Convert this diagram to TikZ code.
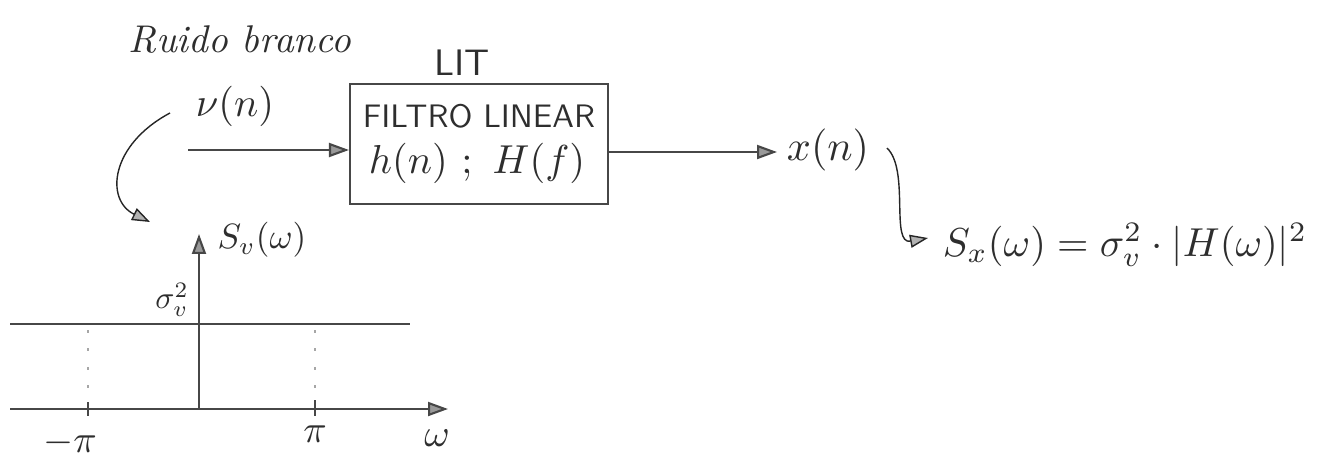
\documentclass[tikz,border=0pt]{standalone}
\usetikzlibrary{arrows.meta}
\begin{document}
\begin{tikzpicture}[x=0.02cm,y=-0.02cm,
  pencil/.style={draw=black!72,line width=1.2pt},
  ink/.style={text=black!82,inner sep=0pt},
  head/.style={-{Triangle[length=0.4cm,width=0.28cm,fill=black!40]}},
  arr/.style={pencil,head},
  curvearr/.style={draw=black!85,line width=0.8pt,-{Triangle[length=0.36cm,width=0.26cm,fill=black!30]}},
  filterbox/.style={pencil,minimum width=5.16cm,minimum height=2.4cm,inner sep=0pt},
  guide/.style={draw=black!35,line width=0.9pt,dash pattern=on 1.5pt off 9pt}]
\useasboundingbox (0,0) rectangle (1329,463);

% block diagram
\node[ink,scale=2.2,font=\itshape] (title) at (240,40) {Ruido branco};
\node[ink,scale=2.1,font=\sffamily] (lit) at (462,63) {LIT};
\node[filterbox] (filt) at (479,144) {};
\node[ink,scale=1.85,font=\sffamily] (ftxt) at (479,116) {FILTRO LINEAR};
\node[ink,scale=2.3] (htxt) at (477,163) {$h(n)\ ;\ H(f)$};
\node[ink,scale=2.3] (nu) at (235,106) {$\nu(n)$};
\node[ink,scale=2.4] (xn) at (828,150) {$x(n)$};
\node[ink,scale=2.3,anchor=west] (sx) at (942,245) {$S_x(\omega) = \sigma_v^2\cdot|H(\omega)|^2$};

\coordinate (in) at (188,150);
\coordinate (out) at (777,152);
\draw[arr] (in) -- (filt.west |- in);
\draw[arr] (filt.east |- out) -- (out);

\coordinate (nuc) at (170,113);
\coordinate (nuend) at (150,222);
\draw[curvearr] (nuc) .. controls (110,145) and (105,200) .. (nuend);
\coordinate (xc) at (887,148);
\coordinate (xend) at (928,238);
\draw[curvearr] (xc) .. controls (910,170) and (890,245) .. (xend);

% power spectral density of the white noise
\coordinate (o) at (199,409);
\coordinate (ytop) at (199,234);
\coordinate (xleft) at (10,409);
\coordinate (xright) at (448,409);
\draw[arr] (o) -- (ytop);
\draw[arr] (xleft) -- (xright);
\draw[pencil] (10,324) -- (410,324);
\draw[guide] (88,330) -- (88,402);
\draw[guide] (315,330) -- (315,402);
\draw[pencil,line width=0.8pt] (88,402) -- (88,416);
\draw[pencil,line width=0.8pt] (315,400) -- (315,416);
\node[ink,scale=2.0] (sv) at (262,240) {$S_v(\omega)$};
\node[ink,scale=1.8] (sig) at (172,300) {$\sigma_v^2$};
\node[ink,scale=2.2] (mpi) at (70,443) {$-\pi$};
\node[ink,scale=2.2] (ppi) at (315,434) {$\pi$};
\node[ink,scale=2.2] (om) at (437,438) {$\omega$};
\end{tikzpicture}
\end{document}
